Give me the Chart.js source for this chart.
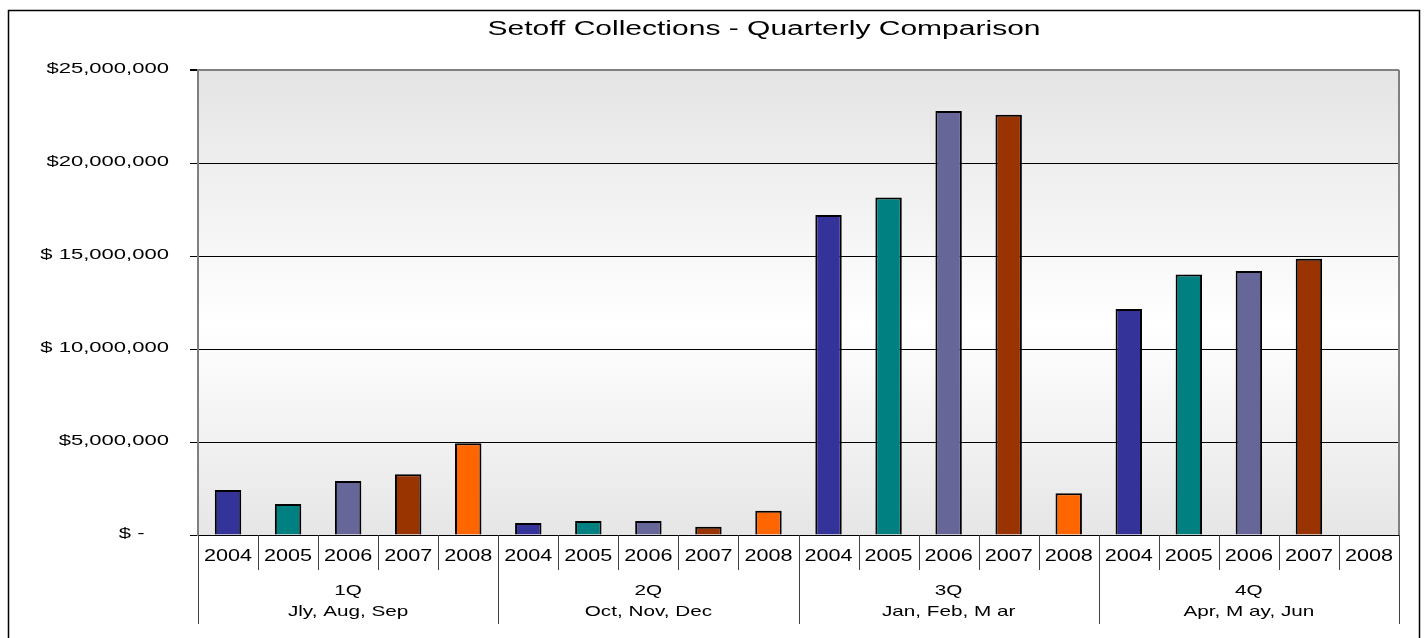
<!DOCTYPE html>
<html>
<head>
<meta charset="utf-8">
<script src="https://cdn.jsdelivr.net/npm/chart.js@4.4.1/dist/chart.umd.min.js"></script>
<style>
  html, body { margin: 0; padding: 0; background: #fff; }
  canvas { display: block; }
</style>
</head>
<body>
<canvas id="setoffChart" width="1428" height="638"></canvas>
<script>
    // Datos (valores en dolares)
    const quarters = ['1Q', '2Q', '3Q', '4Q'];
    const quarterMonths = ['Jly, Aug, Sep', 'Oct, Nov, Dec', 'Jan, Feb, M ar', 'Apr, M ay, Jun'];
    const years = ['2004', '2005', '2006', '2007', '2008'];
    const values2004 = [2420000, 650000, 17200000, 12150000];
    const values2005 = [1670000, 750000, 18150000, 14000000];
    const values2006 = [2900000, 750000, 22800000, 14200000];
    const values2007 = [3260000, 450000, 22600000, 14850000];
    const values2008 = [4930000, 1310000, 2240000, null];
    const yearColors = ['#333399', '#008080', '#666699', '#993300', '#FF6600'];
    const yTickLabels = ['$ -    ', '$5,000,000', '$ 10,000,000', '$ 15,000,000', '$20,000,000', '$25,000,000'];

    const byYear = [values2004, values2005, values2006, values2007, values2008];

    // Se arman las 20 categorias: cada trimestre con sus cinco anios
    const labels = [];
    const data = [];
    const colors = [];
    quarters.forEach((q, qi) => {
        years.forEach((y, yi) => {
            labels.push(y);
            data.push(byYear[yi][qi]);
            colors.push(yearColors[yi]);
        });
    });

    const FONT = '"Liberation Sans", Arial, sans-serif';

    // Texto estirado horizontalmente, como en el original
    function stretchText(ctx, text, x, y, align, size, sx) {
        ctx.save();
        ctx.translate(x, y);
        ctx.scale(sx, 1);
        ctx.font = size + 'px ' + FONT;
        ctx.fillStyle = '#000';
        ctx.textAlign = align;
        ctx.textBaseline = 'middle';
        ctx.fillText(text, 0, 0);
        ctx.restore();
    }

    const decorPlugin = {
        id: 'decor',
        beforeDraw(chart) {
            const { ctx, chartArea: a } = chart;
            // Fondo degradado del area del grafico
            const g = ctx.createLinearGradient(0, a.top, 0, a.bottom);
            g.addColorStop(0, '#e4e4e4');
            g.addColorStop(0.55, '#ffffff');
            g.addColorStop(1, '#e6e6e6');
            ctx.save();
            ctx.fillStyle = g;
            ctx.fillRect(a.left, a.top, a.right - a.left, a.bottom - a.top);
            ctx.restore();
        },
        afterDraw(chart) {
            const { ctx, chartArea: a } = chart;
            const x = chart.scales.x;
            const y = chart.scales.y;

            // Borde exterior
            ctx.save();
            ctx.strokeStyle = '#000';
            ctx.lineWidth = 1.5;
            ctx.strokeRect(8.5, 10.5, 1411, 700);

            // Borde derecho del area del grafico
            ctx.strokeStyle = '#808080';
            ctx.lineWidth = 2;
            ctx.beginPath();
            ctx.moveTo(a.right, a.top);
            ctx.lineTo(a.right, a.bottom);
            ctx.stroke();
            ctx.restore();

            // Titulo
            stretchText(ctx, 'Setoff Collections - Quarterly Comparison', 764, 29, 'center', 20, 1.5);

            // Etiquetas del eje Y
            y.ticks.forEach((t, i) => {
                stretchText(ctx, yTickLabels[i], 169, y.getPixelForValue(t.value) - 1, 'right', 15, 1.47);
            });

            // Separadores y etiquetas del eje X (dos niveles)
            const half = (x.getPixelForValue(1) - x.getPixelForValue(0)) / 2;
            ctx.save();
            ctx.strokeStyle = '#404040';
            ctx.lineWidth = 1;
            for (let i = 0; i <= labels.length; i++) {
                const px = Math.round(i < labels.length ? x.getPixelForValue(i) - half : x.getPixelForValue(i - 1) + half) + 0.5;
                const isGroup = i % years.length === 0;
                ctx.beginPath();
                ctx.moveTo(px, a.bottom);
                ctx.lineTo(px, isGroup ? a.bottom + 89 : a.bottom + 35);
                ctx.stroke();
            }
            ctx.restore();

            labels.forEach((lab, i) => {
                stretchText(ctx, lab, x.getPixelForValue(i), a.bottom + 22, 'center', 16, 1.35);
            });
            quarters.forEach((q, qi) => {
                const first = x.getPixelForValue(qi * years.length);
                const last = x.getPixelForValue(qi * years.length + years.length - 1);
                const cx = (first + last) / 2;
                stretchText(ctx, q, cx, a.bottom + 56, 'center', 15, 1.38);
                stretchText(ctx, quarterMonths[qi], cx, a.bottom + 77, 'center', 15, 1.38);
            });
        }
    };

    window.chartInstances = window.chartInstances || {};

    const ctx = document.getElementById('setoffChart').getContext('2d');
    window.chartInstances.setoffChart = new Chart(ctx, {
        type: 'bar',
        data: {
            labels: labels,
            datasets: [{
                label: 'Setoff Collections',
                data: data,
                backgroundColor: colors,
                borderColor: '#000',
                borderWidth: 2,
                borderSkipped: 'bottom',
                categoryPercentage: 1,
                barPercentage: 0.44
            }]
        },
        options: {
            responsive: false,
            animation: false,
            devicePixelRatio: 1,
            layout: { padding: { left: 0, top: 70, right: 29, bottom: 0 } },
            scales: {
                x: {
                    ticks: { display: false },
                    grid: { display: false },
                    border: { display: false },
                    afterFit(scale) { scale.height = 103; }
                },
                y: {
                    min: 0,
                    max: 25000000,
                    ticks: { display: false, stepSize: 5000000 },
                    grid: {
                        color: (c) => c.tick && c.tick.value === 25000000 ? '#808080' : '#000',
                        lineWidth: (c) => c.tick && c.tick.value === 25000000 ? 2 : 1,
                        tickColor: '#000',
                        tickLength: 8
                    },
                    border: { display: true, color: '#808080', width: 2 },
                    afterFit(scale) { scale.width = 198; }
                }
            },
            plugins: {
                legend: { display: false },
                title: { display: false },
                tooltip: { enabled: false }
            }
        },
        plugins: [decorPlugin]
    });
</script>
</body>
</html>
